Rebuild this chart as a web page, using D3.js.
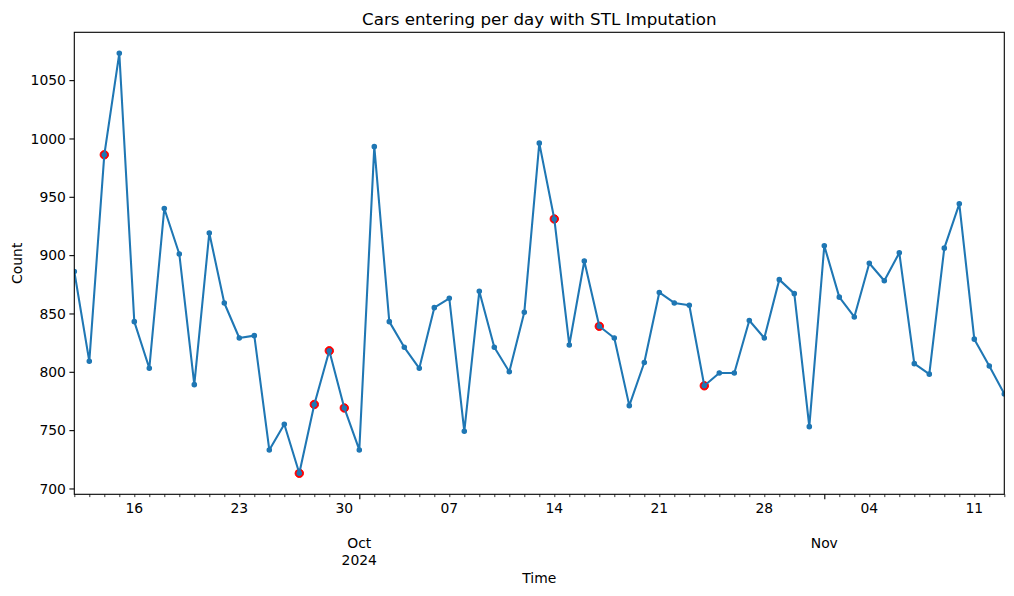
<!DOCTYPE html>
<html>
<head>
<meta charset="utf-8">
<script src="https://cdn.jsdelivr.net/npm/d3@7"></script>
<style>
  html, body { margin: 0; padding: 0; background: #fff; }
  svg { display: block; font-family: "DejaVu Sans", sans-serif; }
</style>
</head>
<body>
<svg id="chart" width="1014" height="596"></svg>
<script>
// ---- data ----
const startDate = "2024-09-12";
const counts = [886, 809, 986, 1073, 843, 803, 940, 901, 789, 919,
                859, 829, 831, 733, 755, 713, 772, 818, 769, 733,
                993, 843, 821, 803, 855, 863, 749, 869, 821, 800,
                851, 996, 931, 823, 895, 839, 829, 771, 808, 868,
                859, 857, 788, 799, 799, 844, 829, 879, 867, 753,
                908, 864, 847, 893, 878, 902, 807, 798, 906, 944,
                828, 805, 781];
const imputedDates = ["2024-09-14", "2024-09-27", "2024-09-28", "2024-09-29",
                      "2024-09-30", "2024-10-14", "2024-10-17", "2024-10-24"];
const yTickValues = [700, 750, 800, 850, 900, 950, 1000, 1050];
const weekLabelDates = ["2024-09-16", "2024-09-23", "2024-09-30", "2024-10-07",
                        "2024-10-14", "2024-10-21", "2024-10-28", "2024-11-04", "2024-11-11"];
const monthTickDates = ["2024-10-01", "2024-11-01"];
const monthTickLabels = [["Oct", "2024"], ["Nov"]];
const titleText = "Cars entering per day with STL Imputation";
const xLabel = "Time";
const yLabel = "Count";

(function () {
// ---- setup ----
const parse = d3.utcParse("%Y-%m-%d");
const start = parse(startDate);
const dates = counts.map((_, i) => d3.utcDay.offset(start, i));
const series = dates.map((d, i) => ({ date: d, value: counts[i] }));
const fmt = d3.utcFormat("%Y-%m-%d");
const imputedSet = new Set(imputedDates);
const imputed = series.filter(d => imputedSet.has(fmt(d.date)));

const svg = d3.select("#chart");
const pL = 74.3, pR = 1004.3, pT = 32.3, pB = 494.3;

const x = d3.scaleUtc().domain(d3.extent(dates)).range([pL, pR]);
const [ymin, ymax] = d3.extent(counts);
const pad = (ymax - ymin) * 0.05;
const y = d3.scaleLinear().domain([ymin - pad, ymax + pad]).range([pB, pT]);

const FS = 13.9;
const BLUE = "#1f77b4";

// ---- y axis ----
const yAxis = svg.append("g")
  .attr("transform", `translate(${pL},0)`)
  .call(d3.axisLeft(y).tickValues(yTickValues).tickSize(4.9).tickPadding(3.5).tickFormat(d3.format("d")));
yAxis.select(".domain").remove();
yAxis.selectAll(".tick line").attr("stroke", "#000").attr("stroke-width", 1.1);
yAxis.selectAll(".tick text").attr("font-size", FS).attr("fill", "#000")
  .attr("font-family", "DejaVu Sans").attr("dy", "0.34em");

// ---- x axis: minor daily ticks ----
const dayTicks = d3.utcDay.range(x.domain()[0], d3.utcDay.offset(x.domain()[1], 1));
const monthSet = new Set(monthTickDates);
const xMinor = svg.append("g")
  .attr("transform", `translate(0,${pB})`)
  .call(d3.axisBottom(x).tickValues(dayTicks.filter(d => !monthSet.has(fmt(d)))).tickSize(2.8).tickFormat(""));
xMinor.select(".domain").remove();
xMinor.selectAll(".tick line").attr("stroke", "#000").attr("stroke-width", 0.8);

const xMajor = svg.append("g")
  .attr("transform", `translate(0,${pB})`)
  .call(d3.axisBottom(x).tickValues(monthTickDates.map(parse)).tickSize(4.9).tickFormat(""));
xMajor.select(".domain").remove();
xMajor.selectAll(".tick line").attr("stroke", "#000").attr("stroke-width", 1.1);

// week labels
svg.append("g").selectAll("text")
  .data(weekLabelDates.map(parse))
  .join("text")
  .attr("x", d => x(d))
  .attr("y", 513)
  .attr("text-anchor", "middle")
  .attr("font-size", FS)
  .attr("fill", "#000")
  .text(d => d3.utcFormat("%d")(d));

// month labels
const mg = svg.append("g").selectAll("text")
  .data(monthTickDates.map((d, i) => ({ date: parse(d), lines: monthTickLabels[i] })))
  .join("text")
  .attr("x", d => x(d.date))
  .attr("y", 548)
  .attr("text-anchor", "middle")
  .attr("font-size", FS)
  .attr("fill", "#000");
mg.selectAll("tspan")
  .data(d => d.lines.map(l => ({ l, x: x(d.date) })))
  .join("tspan")
  .attr("x", d => d.x)
  .attr("dy", (d, i) => i === 0 ? 0 : 16.7)
  .text(d => d.l);

// ---- marks ----
svg.append("g").selectAll("circle")
  .data(imputed)
  .join("circle")
  .attr("cx", d => x(d.date))
  .attr("cy", d => y(d.value))
  .attr("r", 4.2)
  .attr("fill", "red")
  .attr("stroke", "red")
  .attr("stroke-width", 1);

svg.append("clipPath").attr("id", "clip")
  .append("rect").attr("x", pL).attr("y", pT).attr("width", pR - pL).attr("height", pB - pT);

const plot = svg.append("g").attr("clip-path", "url(#clip)");
plot.append("path")
  .datum(series)
  .attr("fill", "none")
  .attr("stroke", BLUE)
  .attr("stroke-width", 2.08)
  .attr("stroke-linejoin", "round")
  .attr("stroke-linecap", "square")
  .attr("d", d3.line().x(d => x(d.date)).y(d => y(d.value)));

plot.append("g").selectAll("circle")
  .data(series)
  .join("circle")
  .attr("cx", d => x(d.date))
  .attr("cy", d => y(d.value))
  .attr("r", 2.1)
  .attr("fill", BLUE)
  .attr("stroke", BLUE)
  .attr("stroke-width", 1.39);

// ---- frame ----
svg.append("rect")
  .attr("x", pL).attr("y", pT)
  .attr("width", pR - pL).attr("height", pB - pT)
  .attr("fill", "none").attr("stroke", "#000").attr("stroke-width", 1.1);

// ---- texts ----
svg.append("text")
  .attr("x", (pL + pR) / 2).attr("y", 24.5)
  .attr("text-anchor", "middle").attr("font-size", 16.7).attr("fill", "#000")
  .text(titleText);

svg.append("text")
  .attr("x", (pL + pR) / 2).attr("y", 583)
  .attr("text-anchor", "middle").attr("font-size", FS).attr("fill", "#000")
  .text(xLabel);

svg.append("text")
  .attr("transform", `translate(21.7,${(pT + pB) / 2}) rotate(-90)`)
  .attr("text-anchor", "middle").attr("font-size", FS).attr("fill", "#000")
  .text(yLabel);
})();
</script>
</body>
</html>
